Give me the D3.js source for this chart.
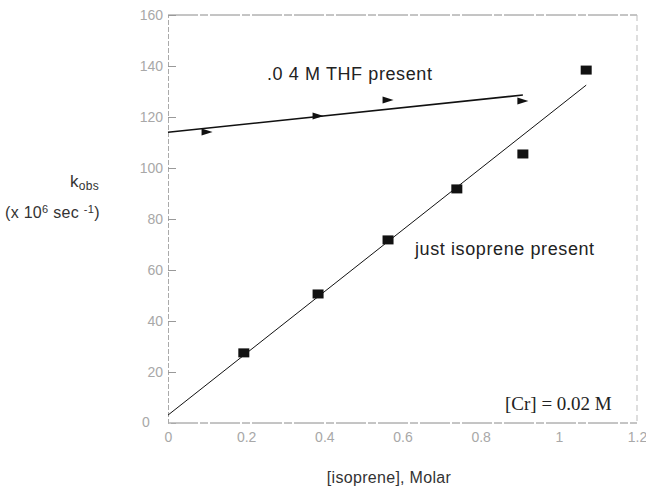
<!DOCTYPE html>
<html>
<head>
<meta charset="utf-8">
<script src="https://cdn.jsdelivr.net/npm/d3@7/dist/d3.min.js"></script>
<style>
    body { margin: 0; background: #fff; }
    svg { display: block; font-family: "Liberation Sans", Arial, sans-serif; }
    .tick-label text { fill: #a8a8a8; font-size: 14px; }
    .note { fill: #222; font-size: 18px; letter-spacing: 0.6px; }
    .cr-note { fill: #222; font-size: 19px; font-family: "Liberation Serif", "Times New Roman", serif; }
    .axis-title { fill: #333; font-size: 16px; letter-spacing: 0.3px; }
</style>
</head>
<body>
<div id="chart-div"></div>
<script>

// [isoprene] (M) and k_obs (x 10^6 s^-1), isoprene only
const isopreneX = [0.194, 0.384, 0.563, 0.739, 0.908, 1.07];
const isopreneK = [27.5, 50.6, 71.8, 91.8, 105.5, 138.4];

// with 0.4 M THF present
const thfX = [0.1, 0.384, 0.563, 0.908];
const thfK = [114.1, 120.4, 126.7, 126.3];

// least-squares lines as drawn in the figure (endpoints)
const isopreneFitX = [0, 1.07];
const isopreneFitK = [3.1, 132.5];
const thfFitX = [0, 0.908];
const thfFitK = [114.0, 128.6];

const xTicks = [0, 0.2, 0.4, 0.6, 0.8, 1, 1.2];
const xTickLabels = ["0", "0.2", "0.4", "0.6", "0.8", "1", "1.2"];
const yTicks = [20, 40, 60, 80, 100, 120, 140, 160];


function drawChart() {

    const svgDims = { width: 646, height: 497 }

    const svg = d3.select("#chart-div")
        .append("svg")
        .attr("width", svgDims.width)
        .attr("height", svgDims.height)

    const margin = {top: 15, right: 9, bottom: 74, left: 168};

    const width = svgDims.width - margin.left - margin.right;
    const height = svgDims.height - margin.top - margin.bottom;
    const g = svg.append("g").attr("transform", "translate(" + margin.left + "," + margin.top + ")");

    const xScale = d3.scaleLinear()
        .domain([0, 1.2])
        .range([0, width]);

    const yScale = d3.scaleLinear()
        .domain([0, 160])
        .range([height, 0]);

    // frame - scanned look, light grey
    g.append("line").attr("x1", 0).attr("x2", width).attr("y1", 0).attr("y2", 0)
        .attr("stroke", "#8a8a8a").attr("stroke-dasharray", "30,2,8,2");
    g.append("line").attr("x1", 0).attr("x2", width).attr("y1", height).attr("y2", height)
        .attr("stroke", "#8a8a8a").attr("stroke-dasharray", "30,2,8,2");
    g.append("line").attr("x1", width).attr("x2", width).attr("y1", 0).attr("y2", height)
        .attr("stroke", "#bdbdbd").attr("stroke-dasharray", "6,4");

    // y axis, ticks point inward
    const yGroup = g.append("g")
        .attr("class", "tick-label")
        .call(d3.axisLeft(yScale)
            .tickValues(yTicks)
            .tickSize(-8)
            .tickPadding(5));
    yGroup.selectAll("text").style("font-family", "inherit").style("font-size", "14px");
    yGroup.selectAll(".tick line").attr("stroke", "#999");
    yGroup.select(".domain").attr("stroke", "#aaa").attr("stroke-dasharray", "5,2");

    // lone zero at the corner
    g.append("text")
        .attr("class", "tick-label")
        .attr("x", -26)
        .attr("y", yScale(0) + 4)
        .attr("fill", "#a8a8a8")
        .style("font-size", "14px")
        .text("0");

    // x axis, labels only
    const xGroup = g.append("g")
        .attr("class", "tick-label")
        .attr("transform", "translate(0," + height + ")")
        .call(d3.axisBottom(xScale)
            .tickValues(xTicks)
            .tickFormat((d, i) => xTickLabels[i])
            .tickSize(0)
            .tickPadding(9));
    xGroup.selectAll("text").style("font-family", "inherit").style("font-size", "14px");
    xGroup.select(".domain").remove();

    // fitted lines
    const line = d3.line()
        .x(d => xScale(d[0]))
        .y(d => yScale(d[1]));

    g.append("path")
        .datum(d3.zip(isopreneFitX, isopreneFitK))
        .attr("d", line)
        .attr("fill", "none")
        .attr("stroke", "#111")
        .attr("stroke-width", 1);

    g.append("path")
        .datum(d3.zip(thfFitX, thfFitK))
        .attr("d", line)
        .attr("fill", "none")
        .attr("stroke", "#111")
        .attr("stroke-width", 1.6);

    // squares, isoprene only
    g.selectAll("rect.iso").data(d3.zip(isopreneX, isopreneK)).enter().append("rect")
        .attr("class", "iso")
        .attr("x", d => xScale(d[0]) - 5.5)
        .attr("y", d => yScale(d[1]) - 4.5)
        .attr("width", 11)
        .attr("height", 9)
        .style("fill", "#111");

    // right pointing triangles, THF
    g.selectAll("path.thf").data(d3.zip(thfX, thfK)).enter().append("path")
        .attr("class", "thf")
        .attr("transform", d => "translate(" + xScale(d[0]) + "," + yScale(d[1]) + ")")
        .attr("d", "M-5.5,-3.5L5.5,0L-5.5,3.5Z")
        .style("fill", "#111");

    // annotations
    svg.append("text").attr("class", "note")
        .attr("x", 267).attr("y", 80)
        .text(".0 4 M THF present");

    svg.append("text").attr("class", "note")
        .attr("x", 415).attr("y", 255)
        .text("just isoprene present");

    svg.append("text").attr("class", "cr-note")
        .attr("x", 505).attr("y", 410)
        .text("[Cr] = 0.02 M");

    // axis titles
    svg.append("text").attr("class", "axis-title")
        .attr("x", 389).attr("y", 483)
        .attr("text-anchor", "middle")
        .text("[isoprene], Molar");

    const kLabel = svg.append("text").attr("class", "axis-title")
        .attr("x", 70).attr("y", 187)
        .style("font-size", "17px");
    kLabel.append("tspan").text("k");
    kLabel.append("tspan").attr("dy", 3).style("font-size", "12px").text("obs");

    const unitLabel = svg.append("text").attr("class", "axis-title")
        .attr("x", 5).attr("y", 218)
        .style("font-size", "16px");
    unitLabel.append("tspan").text("(x 10");
    unitLabel.append("tspan").attr("dy", -5).style("font-size", "11px").text("6");
    unitLabel.append("tspan").attr("dy", 5).text(" sec ");
    unitLabel.append("tspan").attr("dy", -5).style("font-size", "11px").text("-1");
    unitLabel.append("tspan").attr("dy", 5).text(")");
}

drawChart();
</script>
</body>
</html>
